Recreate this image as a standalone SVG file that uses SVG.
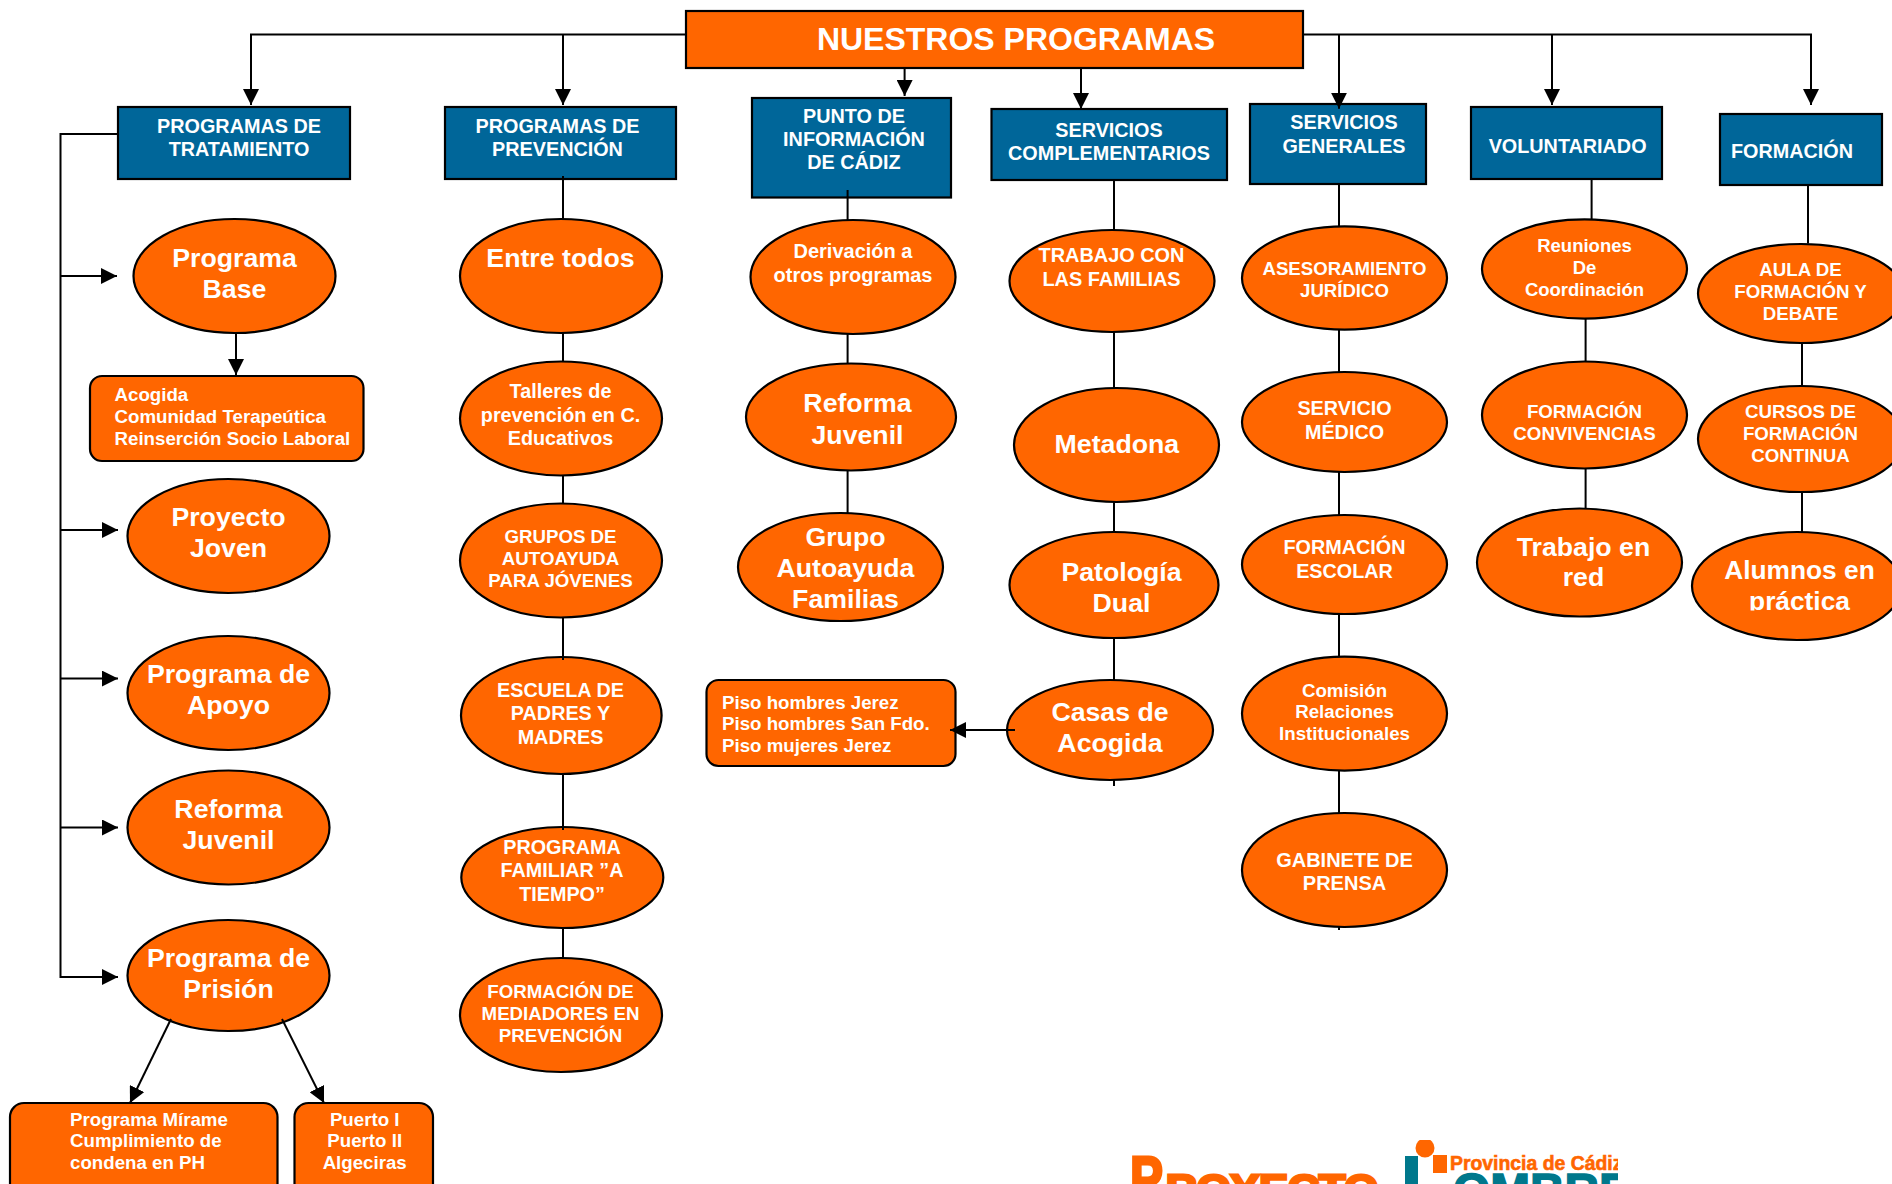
<svg xmlns="http://www.w3.org/2000/svg" width="1892" height="1184" viewBox="0 0 1892 1184">
<style>
text{font-family:"Liberation Sans",Arial,sans-serif;font-weight:bold;fill:#fff}
.c{text-anchor:middle}
.s27{font-size:26.7px}.s20{font-size:19.8px}.s19{font-size:18.7px}
.o{fill:#f60;stroke:#000;stroke-width:2.2}
.b{fill:#069;stroke:#000;stroke-width:2.2}
.l{fill:none;stroke:#000;stroke-width:2}
.a{marker-end:url(#ah)}
</style>
<defs>
<marker id="ah" markerUnits="userSpaceOnUse" markerWidth="16" markerHeight="16" refX="16" refY="8" orient="auto"><path d="M0 0L16 8L0 16z" fill="#000"/></marker>
<clipPath id="cut"><rect x="1690" y="520" width="202" height="90.5"/></clipPath>
<clipPath id="logoclip"><rect x="1120" y="1140" width="498" height="44"/></clipPath>
</defs>
<rect width="1892" height="1184" fill="#fff"/>
<g id="nuestros-programas"><rect class="o" x="686" y="11" width="617" height="57"/><text class="c" x="1016" y="50" font-size="32">NUESTROS PROGRAMAS</text></g>
<g id="h-tratamiento"><rect class="b" x="118" y="107" width="232" height="72"/><text class="c s20" x="239"><tspan x="239" y="133">PROGRAMAS DE</tspan><tspan x="239" y="156">TRATAMIENTO</tspan></text></g>
<g id="h-prevencion"><rect class="b" x="445" y="107" width="231" height="72"/><text class="c s20"><tspan x="557.5" y="133">PROGRAMAS DE</tspan><tspan x="557.5" y="156">PREVENCIÓN</tspan></text></g>
<g id="h-punto"><rect class="b" x="752" y="98" width="199" height="99.5"/><text class="c s20"><tspan x="854" y="123">PUNTO DE</tspan><tspan x="854" y="146">INFORMACIÓN</tspan><tspan x="854" y="169">DE CÁDIZ</tspan></text></g>
<g id="h-complementarios"><rect class="b" x="991.5" y="109" width="235.5" height="71"/><text class="c s20"><tspan x="1109" y="137">SERVICIOS</tspan><tspan x="1109" y="160">COMPLEMENTARIOS</tspan></text></g>
<g id="h-generales"><rect class="b" x="1250" y="104" width="176" height="80"/><text class="c s20"><tspan x="1344" y="129">SERVICIOS</tspan><tspan x="1344" y="153">GENERALES</tspan></text></g>
<g id="h-voluntariado"><rect class="b" x="1471" y="107" width="191" height="72"/><text class="c s20" x="1567.6" y="153">VOLUNTARIADO</text></g>
<g id="h-formacion"><rect class="b" x="1720" y="114" width="162" height="71"/><text class="c s20" x="1792" y="158">FORMACIÓN</text></g>

<g id="programa-base"><ellipse class="o" cx="234.5" cy="276" rx="101" ry="57"/><text class="c s27"><tspan x="234.5" y="267">Programa</tspan><tspan x="234.5" y="298">Base</tspan></text></g>
<g id="acogida"><rect class="o" x="90" y="376" width="273.5" height="85" rx="12"/><text class="s19"><tspan x="114.5" y="401">Acogida</tspan><tspan x="114.5" y="423">Comunidad Terapeútica</tspan><tspan x="114.5" y="445">Reinserción Socio Laboral</tspan></text></g>
<g id="proyecto-joven"><ellipse class="o" cx="228.5" cy="536" rx="101" ry="57"/><text class="c s27"><tspan x="228.5" y="526">Proyecto</tspan><tspan x="228.5" y="557">Joven</tspan></text></g>
<g id="programa-apoyo"><ellipse class="o" cx="228.5" cy="693" rx="101" ry="57"/><text class="c s27"><tspan x="228.5" y="683">Programa de</tspan><tspan x="228.5" y="714">Apoyo</tspan></text></g>
<g id="reforma-juvenil-1"><ellipse class="o" cx="228.5" cy="827.5" rx="101" ry="57"/><text class="c s27"><tspan x="228.5" y="818">Reforma</tspan><tspan x="228.5" y="849">Juvenil</tspan></text></g>
<g id="programa-prision"><ellipse class="o" cx="228.5" cy="975.5" rx="101" ry="55.5"/><text class="c s27"><tspan x="228.5" y="967">Programa de</tspan><tspan x="228.5" y="998">Prisión</tspan></text></g>
<g id="mirame"><rect class="o" x="10" y="1103" width="267.5" height="100" rx="14"/><text class="s19"><tspan x="70" y="1126">Programa Mírame</tspan><tspan x="70" y="1147">Cumplimiento de</tspan><tspan x="70" y="1169">condena en PH</tspan></text></g>
<g id="puerto"><rect class="o" x="294.5" y="1103" width="138.5" height="100" rx="14"/><text class="c s19"><tspan x="364.7" y="1126">Puerto I</tspan><tspan x="364.7" y="1147">Puerto II</tspan><tspan x="364.7" y="1169">Algeciras</tspan></text></g>

<g id="entre-todos"><ellipse class="o" cx="561" cy="276" rx="101" ry="57"/><text class="c s27" x="560.5" y="267">Entre todos</text></g>
<g id="talleres"><ellipse class="o" cx="561" cy="418.5" rx="101" ry="57"/><text class="c s20"><tspan x="560.5" y="398.4">Talleres de</tspan><tspan x="560.5" y="421.7">prevención en C.</tspan><tspan x="560.5" y="445">Educativos</tspan></text></g>
<g id="grupos"><ellipse class="o" cx="561" cy="560.5" rx="101" ry="57"/><text class="c s19"><tspan x="560.5" y="543.4">GRUPOS DE</tspan><tspan x="560.5" y="565">AUTOAYUDA</tspan><tspan x="560.5" y="587">PARA JÓVENES</tspan></text></g>
<g id="escuela"><ellipse class="o" cx="561.3" cy="715.5" rx="100.3" ry="58.5"/><text class="c s20"><tspan x="560.5" y="697">ESCUELA DE</tspan><tspan x="560.5" y="720">PADRES Y</tspan><tspan x="560.5" y="744">MADRES</tspan></text></g>
<g id="a-tiempo"><ellipse class="o" cx="562.3" cy="877.5" rx="101" ry="50.5"/><text class="c s20"><tspan x="562" y="854">PROGRAMA</tspan><tspan x="562" y="877">FAMILIAR ”A</tspan><tspan x="562" y="901">TIEMPO”</tspan></text></g>
<g id="mediadores"><ellipse class="o" cx="561" cy="1015" rx="101" ry="57"/><text class="c s19"><tspan x="560.5" y="997.5">FORMACIÓN DE</tspan><tspan x="560.5" y="1020">MEDIADORES EN</tspan><tspan x="560.5" y="1041.5">PREVENCIÓN</tspan></text></g>

<g id="derivacion"><ellipse class="o" cx="853" cy="277" rx="102.5" ry="57"/><text class="c" font-size="20"><tspan x="853" y="258">Derivación a</tspan><tspan x="853" y="282.4">otros programas</tspan></text></g>
<g id="reforma-juvenil-2"><ellipse class="o" cx="851" cy="417" rx="105" ry="53.5"/><text class="c s27"><tspan x="857.5" y="412">Reforma</tspan><tspan x="857.5" y="444">Juvenil</tspan></text></g>
<g id="grupo-autoayuda"><ellipse class="o" cx="840.5" cy="567" rx="102.5" ry="54"/><text class="c s27"><tspan x="845.5" y="546">Grupo</tspan><tspan x="845.5" y="577">Autoayuda</tspan><tspan x="845.5" y="607.5">Familias</tspan></text></g>
<g id="pisos"><rect class="o" x="706.5" y="680" width="249" height="86" rx="12"/><text class="s19"><tspan x="722" y="709">Piso hombres Jerez</tspan><tspan x="722" y="730">Piso hombres San Fdo.</tspan><tspan x="722" y="752">Piso mujeres Jerez</tspan></text></g>

<g id="trabajo-familias"><ellipse class="o" cx="1112" cy="281" rx="102.5" ry="51"/><text class="c" font-size="19.9"><tspan x="1111.5" y="262">TRABAJO CON</tspan><tspan x="1111.5" y="286">LAS FAMILIAS</tspan></text></g>
<g id="metadona"><ellipse class="o" cx="1116.5" cy="445" rx="102.5" ry="57"/><text class="c s27" x="1116.9" y="452.7">Metadona</text></g>
<g id="patologia"><ellipse class="o" cx="1114" cy="585" rx="104.5" ry="53"/><text class="c s27"><tspan x="1121.5" y="580.5">Patología</tspan><tspan x="1121.5" y="612">Dual</tspan></text></g>
<g id="casas"><ellipse class="o" cx="1110" cy="730" rx="103" ry="50"/><text class="c s27"><tspan x="1110" y="721">Casas de</tspan><tspan x="1110" y="752">Acogida</tspan></text></g>

<g id="asesoramiento"><ellipse class="o" cx="1344.5" cy="278" rx="102.5" ry="51.7"/><text class="c" font-size="18.6"><tspan x="1344.5" y="275">ASESORAMIENTO</tspan><tspan x="1344.5" y="297">JURÍDICO</tspan></text></g>
<g id="medico"><ellipse class="o" cx="1344.5" cy="422" rx="102.5" ry="50"/><text class="c s20"><tspan x="1344.5" y="415">SERVICIO</tspan><tspan x="1344.5" y="439">MÉDICO</tspan></text></g>
<g id="escolar"><ellipse class="o" cx="1344.5" cy="564.5" rx="102.5" ry="49.5"/><text class="c s20"><tspan x="1344.5" y="553.5">FORMACIÓN</tspan><tspan x="1344.5" y="577.5">ESCOLAR</tspan></text></g>
<g id="comision"><ellipse class="o" cx="1344.5" cy="713.6" rx="102.5" ry="57"/><text class="c s19"><tspan x="1344.5" y="697">Comisión</tspan><tspan x="1344.5" y="718">Relaciones</tspan><tspan x="1344.5" y="740.4">Institucionales</tspan></text></g>
<g id="gabinete"><ellipse class="o" cx="1344.5" cy="870" rx="102.5" ry="57"/><text class="c" font-size="20"><tspan x="1344.5" y="866.7">GABINETE DE</tspan><tspan x="1344.5" y="889.8">PRENSA</tspan></text></g>

<g id="reuniones"><ellipse class="o" cx="1584.5" cy="269" rx="102.5" ry="49.6"/><text class="c" font-size="18.5"><tspan x="1584.5" y="251.6">Reuniones</tspan><tspan x="1584.5" y="273.5">De</tspan><tspan x="1584.5" y="295.6">Coordinación</tspan></text></g>
<g id="convivencias"><ellipse class="o" cx="1584.5" cy="415" rx="102.5" ry="53.5"/><text class="c s19"><tspan x="1584.5" y="418">FORMACIÓN</tspan><tspan x="1584.5" y="440">CONVIVENCIAS</tspan></text></g>
<g id="trabajo-red"><ellipse class="o" cx="1579.5" cy="562.5" rx="102.5" ry="54"/><text class="c s27"><tspan x="1583.5" y="555.5">Trabajo en</tspan><tspan x="1583.5" y="586">red</tspan></text></g>

<g id="aula"><ellipse class="o" cx="1801" cy="293.5" rx="103" ry="49.5"/><text class="c s19"><tspan x="1800.5" y="276">AULA DE</tspan><tspan x="1800.5" y="298">FORMACIÓN Y</tspan><tspan x="1800.5" y="320">DEBATE</tspan></text></g>
<g id="cursos"><ellipse class="o" cx="1801" cy="439" rx="103" ry="53"/><text class="c s19"><tspan x="1800.5" y="418">CURSOS DE</tspan><tspan x="1800.5" y="440">FORMACIÓN</tspan><tspan x="1800.5" y="462">CONTINUA</tspan></text></g>
<g id="alumnos"><ellipse class="o" cx="1797" cy="586" rx="105" ry="54"/><text class="c" font-size="26.3" clip-path="url(#cut)"><tspan x="1799.5" y="578.5">Alumnos en</tspan><tspan x="1799.5" y="610">práctica</tspan></text></g>

<g id="connectors">
<path class="l a" d="M686 34.5H251V105"/>
<path class="l a" d="M563 34.5V105"/>
<path class="l a" d="M904.6 68V96"/>
<path class="l a" d="M1081 68V109"/>
<path class="l a" d="M1303 34.5H1811V105"/>
<path class="l a" d="M1339 34.5V108.7"/>
<path class="l a" d="M1552 34.5V105"/>
<path class="l a" d="M118 134H60.5V977H118"/>
<path class="l a" d="M60.5 276H117"/>
<path class="l a" d="M60.5 530H118"/>
<path class="l a" d="M60.5 678.6H118"/>
<path class="l a" d="M60.5 827.5H118"/>
<path class="l a" d="M236 333V375"/>
<path class="l a" d="M171 1019L130 1103"/>
<path class="l a" d="M282 1019L324 1103"/>
<path class="l a" d="M1015 730H950"/>
<path class="l" d="M563 176V219M563 333V362M563 475V504M563 617V660M563 774V830M563 928V958"/>
<path class="l" d="M847.6 190V220M847.6 334V363.5M847.6 470V513"/>
<path class="l" d="M1114 180V230M1114 332V388M1114 502V532M1114 638V680.5M1114 780V786"/>
<path class="l" d="M1339 184V226.5M1339 330V372M1339 472V515M1339 614V656.6M1339 770.6V813M1339 926.6V930"/>
<path class="l" d="M1591.6 179V220M1585.6 319V361.6M1585.6 468.4V508.6"/>
<path class="l" d="M1808 185V243.4M1802 343V386M1802 492V532"/>
</g>

<g id="logo" clip-path="url(#logoclip)">
<text style="fill:#f60;stroke:#f60;stroke-width:3"><tspan x="1130" y="1200" font-size="63" textLength="33" lengthAdjust="spacingAndGlyphs">P</tspan><tspan x="1166" y="1202" font-size="38" textLength="212" lengthAdjust="spacingAndGlyphs">ROYECTO</tspan></text>
<circle cx="1425" cy="1148" r="9.5" fill="#f60"/>
<rect x="1405" y="1156" width="13" height="30" fill="#00788c"/>
<rect x="1433" y="1155" width="14" height="18" fill="#f60"/>
<text style="fill:#f60;stroke:#f60;stroke-width:.6" x="1450" y="1170" font-size="19.4">Provincia de Cádiz</text>
<text style="fill:#00788c;stroke:#00788c;stroke-width:1.5" x="1453" y="1207" font-size="48" textLength="178" lengthAdjust="spacingAndGlyphs">OMBRE</text>
</g>
</svg>
